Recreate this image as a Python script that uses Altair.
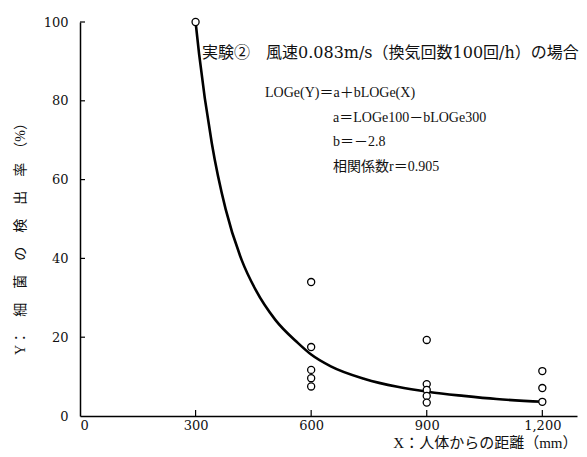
import altair as alt
import pandas as pd

# observed points
pt_x = [300, 600, 600, 600, 600, 600, 900, 900, 900, 900, 900, 1200, 1200, 1200]
pt_y = [100, 34.0, 17.5, 11.7, 9.6, 7.5, 19.3, 8.1, 6.6, 5.1, 3.4, 11.4, 7.1, 3.6]

# fitted curve
cv_x = [300, 309, 342, 378, 420, 456, 507, 566, 600, 651, 739, 824, 906, 996, 1081, 1202]
cv_y = [100, 92.0, 69.3, 52.5, 39.5, 32.0, 24.4, 18.5, 15.6, 12.6, 9.4, 7.4, 6.1, 5.1, 4.3, 3.6]

x_ticks = [0, 300, 600, 900, 1200]
y_ticks = [0, 20, 40, 60, 80, 100]
x_inner_ticks = [300, 600, 900, 1200]
y_inner_ticks = [20, 40, 60, 80, 100]

note_lines = [
    "実験②　風速0.083m/s（換気回数100回/h）の場合",
    "LOGe(Y)＝a＋bLOGe(X)",
    "a＝LOGe100－bLOGe300",
    "b＝－2.8",
    "相関係数r＝0.905",
]
y_title = "Y：\u3000" + "\u3000".join(["細", "菌", "の", "検", "出", "率"]) + "\u3000（%）"
x_title = "X：人体からの距離（mm）"

FONT = "Liberation Serif, Noto Sans CJK JP"
FONT_W = "DejaVu Serif, Noto Sans CJK JP"
W, H = 497, 394

pts = pd.DataFrame({"x": pt_x, "y": pt_y})
curve = pd.DataFrame({"x": cv_x, "y": cv_y})

xs = alt.Scale(domain=[0, 1290], nice=False)
ys = alt.Scale(domain=[0, 100], nice=False)

x_axis = alt.Axis(values=x_ticks, format=",d", ticks=False, grid=False,
                  title=x_title, titleX=W, titleY=26, titleFontSize=15,
                  titleAlign="right", titleBaseline="middle", labelPadding=3)
y_axis = alt.Axis(values=y_ticks, format="d", ticks=False, grid=False,
                  title=y_title, titleX=-60, titleY=213, titleFontSize=14,
                  titleAngle=-90, titleAlign="center", titleBaseline="middle",
                  labelPadding=12)

line = alt.Chart(curve).mark_line(color="black", strokeWidth=2.6, interpolate="monotone").encode(
    x=alt.X("x:Q", scale=xs, axis=x_axis),
    y=alt.Y("y:Q", scale=ys, axis=y_axis),
)

points = alt.Chart(pts).mark_point(shape="circle", filled=True, fill="white", stroke="black",
                                   strokeWidth=1.3, size=50, opacity=1).encode(
    x=alt.X("x:Q", scale=xs),
    y=alt.Y("y:Q", scale=ys),
)

xt = alt.Chart(pd.DataFrame({"t": x_inner_ticks})).mark_rule(color="black", strokeWidth=1.2).encode(
    x=alt.X("t:Q", scale=xs),
    y=alt.value(H),
    y2=alt.value(H - 6),
)
yt = alt.Chart(pd.DataFrame({"t": y_inner_ticks})).mark_rule(color="black", strokeWidth=1.2).encode(
    y=alt.Y("t:Q", scale=ys),
    x=alt.value(0),
    x2=alt.value(5),
)

note_pos = [(122, 31), (185, 71), (253, 96), (253, 120), (253, 145)]
note_font = [FONT_W, FONT, FONT, FONT, FONT]
note_size = [16, 14, 14, 14, 14]
notes = []
for txt, (px, py), fnt, fs in zip(note_lines, note_pos, note_font, note_size):
    notes.append(
        alt.Chart(pd.DataFrame({"t": [txt]})).mark_text(
            align="left", baseline="middle", font=fnt, fontSize=fs, color="#111"
        ).encode(text="t:N", x=alt.value(px), y=alt.value(py))
    )

chart = alt.layer(line, xt, yt, points, *notes).properties(
    width=W, height=H,
    padding={"left": 72, "top": 14, "right": 2, "bottom": 33},
    autosize=alt.AutoSizeParams(type="none"),
).configure_view(stroke=None).configure_axis(
    domainColor="black", domainWidth=1.5,
    labelFont=FONT_W, labelFontSize=13, labelColor="#111",
    titleFont=FONT, titleFontWeight="normal", titleColor="#111",
)

chart.save("out.html", embed_options={"renderer": "svg", "actions": False})
